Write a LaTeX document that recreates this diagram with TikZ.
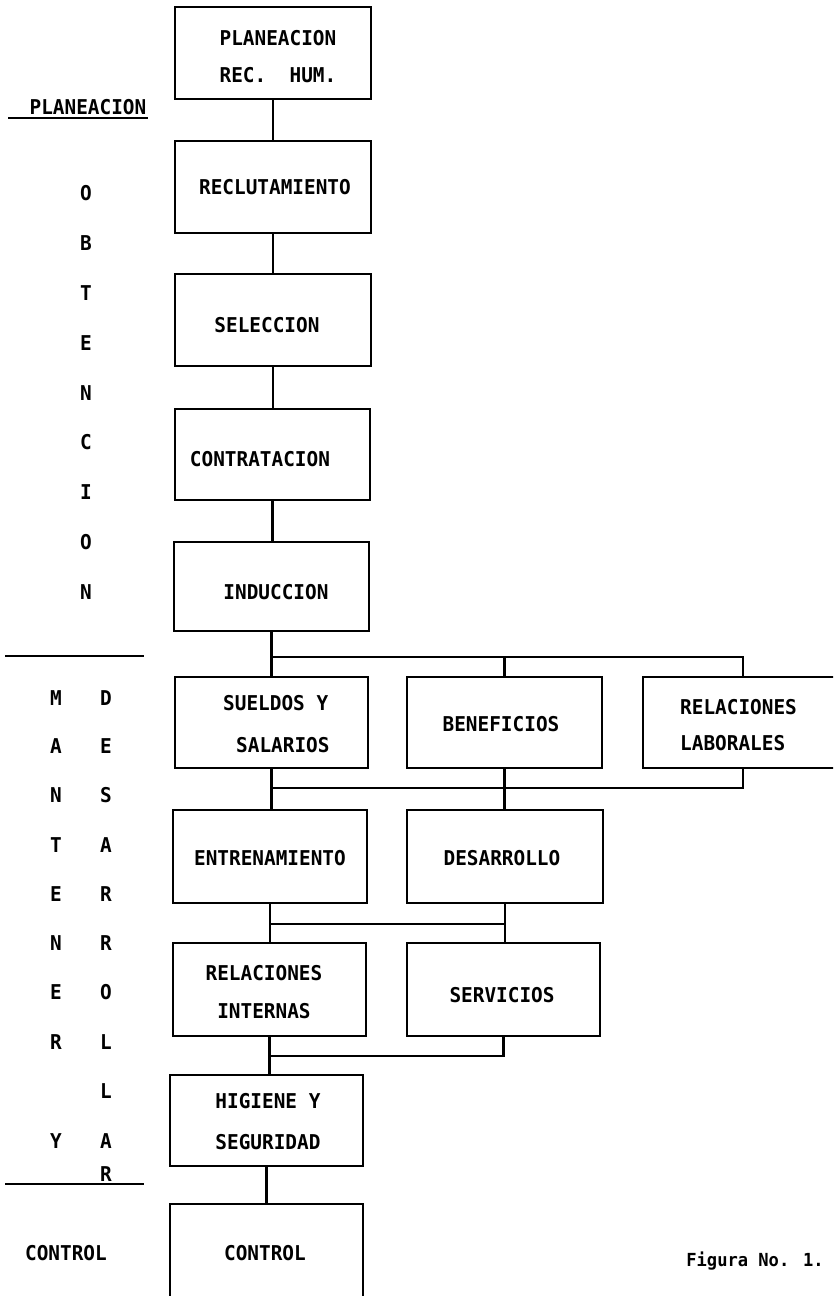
\documentclass[tikz,border=0pt]{standalone}
\usepackage{fontspec}
\newfontfamily\typer{DejaVu Sans Mono}[FakeStretch=0.95]
\newcommand\lblfont{\typer\bfseries\fontsize{20.4}{24}\selectfont}
\newcommand\capfont{\typer\bfseries\fontsize{18}{22}\selectfont}
\begin{document}
\begin{tikzpicture}[x=1pt,y=-1pt,
  box/.style={draw, line width=2.5pt, inner sep=0pt},
  lbl/.style={font=\lblfont, inner sep=0pt, text height=14.8pt, text depth=0pt},
  link/.style={line width=2.5pt},
  rulebar/.style={line width=2pt}]
\useasboundingbox (0,0) rectangle (833,1296);
\clip (0,0) rectangle (833,1296);

% ---- boxes of the main column ----
\node[box, minimum width=196pt, minimum height=92pt] (b1) at (273,53) {};
\node[box, minimum width=196pt, minimum height=92pt] (b2) at (273,187) {};
\node[box, minimum width=196pt, minimum height=92pt] (b3) at (273,320) {};
\node[box, minimum width=195pt, minimum height=91pt] (b4) at (272.5,454.5) {};
\node[box, minimum width=195pt, minimum height=89pt] (b5) at (271.5,586.5) {};
% ---- maintenance / development boxes ----
\node[box, minimum width=193pt, minimum height=91pt] (s1) at (271.5,722.5) {};
\node[box, minimum width=195pt, minimum height=91pt] (s2) at (504.5,722.5) {};
\node[box, minimum width=200pt, minimum height=91pt] (s3) at (743,722.5) {};
\node[box, minimum width=194pt, minimum height=93pt] (e1) at (270,856.5) {};
\node[box, minimum width=196pt, minimum height=93pt] (e2) at (505,856.5) {};
\node[box, minimum width=193pt, minimum height=93pt] (r1) at (269.5,989.5) {};
\node[box, minimum width=193pt, minimum height=93pt] (r2) at (503.5,989.5) {};
\node[box, minimum width=193pt, minimum height=91pt] (h1) at (266.5,1120.5) {};
\node[box, minimum width=193pt, minimum height=136pt] (c1) at (266.5,1272) {};

% ---- box texts ----
\node[lbl] (t1a) at (278,38) {PLANEACION};
\node[lbl] (t1b) at (278,75) {REC.\ \ HUM.};
\node[lbl] (t2) at (275,187) {RECLUTAMIENTO};
\node[lbl] (t3) at (267,325) {SELECCION};
\node[lbl] (t4) at (260,459) {CONTRATACION};
\node[lbl] (t5) at (276,592) {INDUCCION};
\node[lbl, anchor=west] (t6a) at (223,703) {SUELDOS Y};
\node[lbl, anchor=west] (t6b) at (236,745) {SALARIOS};
\node[lbl] (t7) at (501,724) {BENEFICIOS};
\node[lbl, anchor=west] (t8a) at (680,707) {RELACIONES};
\node[lbl, anchor=west] (t8b) at (680,743) {LABORALES};
\node[lbl] (t9) at (270,858) {ENTRENAMIENTO};
\node[lbl] (t10) at (502,858) {DESARROLLO};
\node[lbl] (t11a) at (264,973) {RELACIONES};
\node[lbl] (t11b) at (264,1011) {INTERNAS};
\node[lbl] (t12) at (502,995) {SERVICIOS};
\node[lbl] (t13a) at (268,1101) {HIGIENE Y};
\node[lbl] (t13b) at (268,1142) {SEGURIDAD};
\node[lbl] (t14) at (265,1253) {CONTROL};

% ---- connectors ----
\coordinate (bus1) at (0,657);
\coordinate (bus2) at (0,788);
\coordinate (bus3) at (0,924);
\coordinate (bus4) at (0,1056);
\draw[link] (b1.south) -- (b1.south |- b2.north);
\draw[link] (b2.south) -- (b2.south |- b3.north);
\draw[link] (b3.south) -- (b3.south |- b4.north);
\draw[link] (b4.south) -- (b4.south |- b5.north);
\draw[link] (b5.south) -- (b5.south |- s1.north);
\draw[link] (b5.south |- bus1) -- (s3.north |- bus1) -- (s3.north);
\draw[link] (s2.north |- bus1) -- (s2.north);
\draw[link] (s1.south) -- (s1.south |- e1.north);
\draw[link] (s1.south |- bus2) -- (s3.south |- bus2) -- (s3.south);
\draw[link] (s2.south) -- (s2.south |- e2.north);
\draw[link] (e1.south) -- (e1.south |- r1.north);
\draw[link] (e2.south) -- (e2.south |- r2.north);
\draw[link] (e1.south |- bus3) -- (e2.south |- bus3);
\draw[link] (r1.south) -- (r1.south |- h1.north);
\draw[link] (r1.south |- bus4) -| (r2.south);
\draw[link] (h1.south) -- (h1.south |- c1.north);

% ---- left-hand phase labels ----
\node[lbl] (ph1) at (88,107) {PLANEACION};
\coordinate (u1a) at (8,118);
\coordinate (u1b) at (148,118);
\draw[rulebar] (u1a) -- (u1b);
\foreach \c [count=\i] in {O,B,T,E,N,C,I,O,N}
  \node[lbl] (obt-\i) at (86,{193+49.9*(\i-1)}) {\c};
\coordinate (u2a) at (5,656);
\coordinate (u2b) at (144,656);
\draw[rulebar] (u2a) -- (u2b);
\foreach \c/\yy [count=\i] in {M/698,A/746,N/795,T/845,E/894,N/943,E/992,R/1042,Y/1141}
  \node[lbl] (man-\i) at (56,\yy) {\c};
\foreach \c/\yy [count=\i] in {D/698,E/746,S/795,A/845,R/894,R/943,O/992,L/1042,L/1091,A/1141,R/1174}
  \node[lbl] (des-\i) at (106,\yy) {\c};
\coordinate (u3a) at (5,1184);
\coordinate (u3b) at (144,1184);
\draw[rulebar] (u3a) -- (u3b);
\node[lbl] (ph4) at (66,1253) {CONTROL};

% ---- caption ----
\node[font=\capfont, inner sep=0pt, text height=13pt, text depth=0pt] (cap) at (755,1260) {Figura No. 1.};
\end{tikzpicture}
\end{document}
